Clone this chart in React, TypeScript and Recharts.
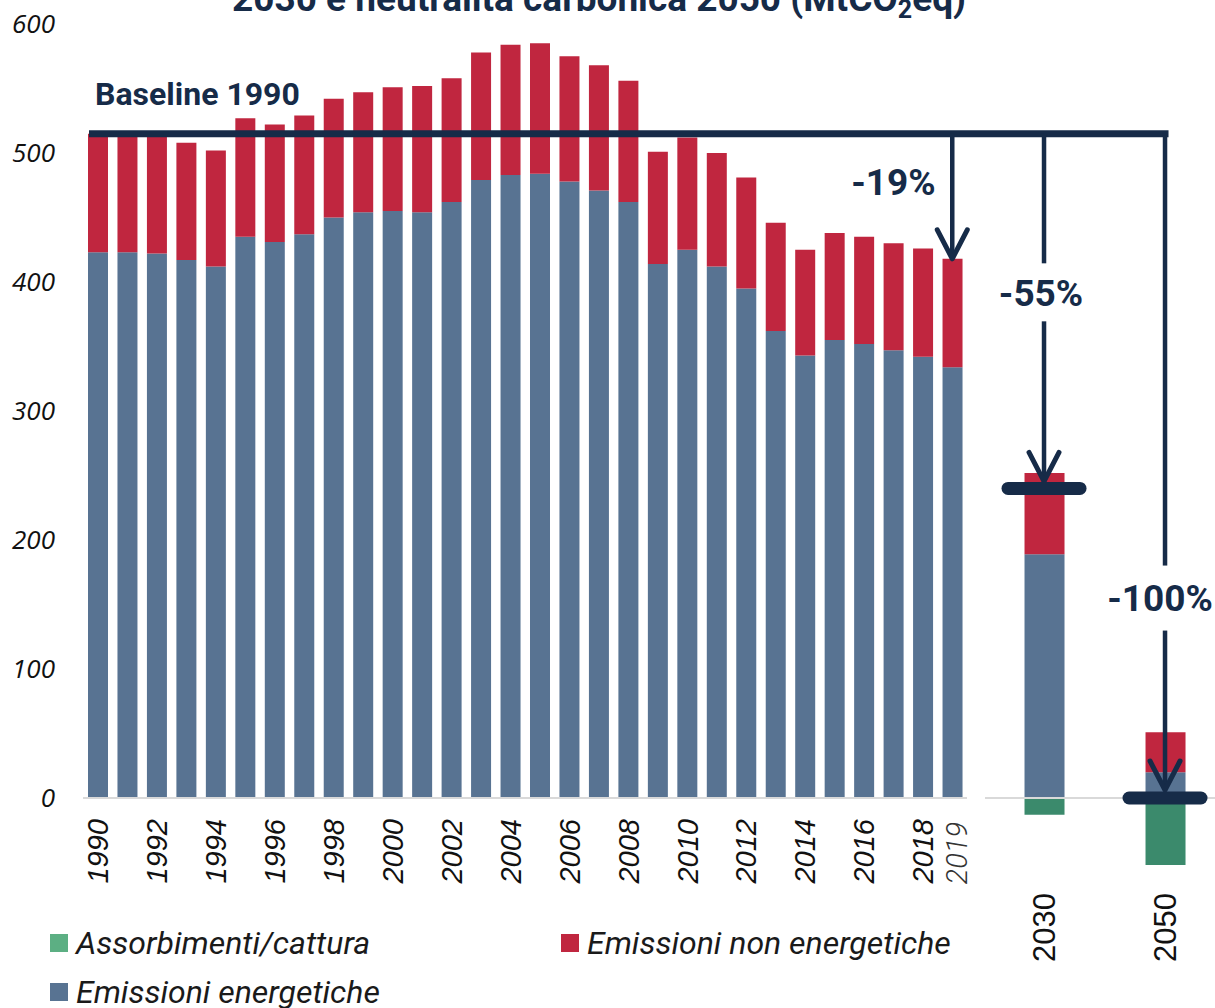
import React from "react";
import { BarChart, Bar, XAxis, YAxis, ReferenceLine, ReferenceDot } from "recharts";

const years = [
	1990, 1991, 1992, 1993, 1994, 1995, 1996, 1997, 1998, 1999,
	2000, 2001, 2002, 2003, 2004, 2005, 2006, 2007, 2008, 2009,
	2010, 2011, 2012, 2013, 2014, 2015, 2016, 2017, 2018, 2019,
];
const energetiche = [
	423, 423, 422, 417, 412, 435, 431, 437, 450, 454,
	455, 454, 462, 479, 483, 484, 478, 471, 462, 414,
	425, 412, 395, 362, 343, 355, 352, 347, 342, 334,
];
const nonEnergetiche = [
	92, 92, 93, 91, 90, 92, 91, 92, 92, 93,
	96, 98, 96, 99, 101, 101, 97, 97, 94, 87,
	87, 88, 86, 84, 82, 83, 83, 83, 84, 84,
];
const yearTicks = [1990, 1992, 1994, 1996, 1998, 2000, 2002, 2004, 2006, 2008, 2010, 2012, 2014, 2016, 2018, 2019];
const yTicks = [0, 100, 200, 300, 400, 500, 600];

const targetYears = [2030, 2050];
const targetEnergetiche = [189, 20];
const targetNonEnergetiche = [63, 31];
const targetAssorbimenti = [-13, -52];
const targetMarkers = [240, 0];

const BASELINE = 515;

const NAVY = "#162b48";
const BLUE = "#587392";
const RED = "#c0263f";
const GREEN = "#3b8a6c";

const legendItems = [
	{ name: "Assorbimenti/cattura", color: "#5caf83" },
	{ name: "Emissioni non energetiche", color: RED },
	{ name: "Emissioni energetiche", color: BLUE },
];

const histData = years.map((year, i) => ({
	year,
	energetiche: energetiche[i],
	nonEnergetiche: nonEnergetiche[i],
}));

const targetData = targetYears.map((year, i) => ({
	year,
	assorbimenti: targetAssorbimenti[i],
	energetiche: targetEnergetiche[i],
	nonEnergetiche: targetNonEnergetiche[i],
}));

const lastTotal = energetiche[energetiche.length - 1] + nonEnergetiche[nonEnergetiche.length - 1];
const targetDomain: [number, number] = [2017.27, 2058.26];

const boldText = { fontFamily: "Roboto", fontWeight: 700, fill: NAVY };

function YearTick({ x, y, payload }: any) {
	const last = payload.value === 2019;
	return (
		<g transform={`translate(${x},${y})`}>
			<text
				x={last ? -18 : -15}
				y={last ? 4 : 0}
				dy="0.36em"
				transform="rotate(-90)"
				textAnchor="end"
				fontFamily={last ? "Roboto" : "Liberation Sans"}
				fontStyle="italic"
				fontWeight={last ? 300 : 400}
				fontSize={29}
				fill={last ? "#333" : "#111"}
			>
				{payload.value}
			</text>
		</g>
	);
}

function TargetTick({ x, y, payload }: any) {
	return (
		<g transform={`translate(${x},${y})`}>
			<text x={-9} dy="0.36em" transform="rotate(-90)" textAnchor="end" fontFamily="Liberation Sans" fontSize={31} fill="#111">
				{payload.value}
			</text>
		</g>
	);
}

// arrow from the baseline down to a target, tip pulled back by `inset` px
const arrowShape = (inset: number) => (p: any) => {
	const tipY = p.y2 - inset;
	return (
		<g>
			<line x1={p.x1} y1={p.y1} x2={p.x2} y2={tipY} stroke={NAVY} strokeWidth={4.5} />
			<polyline
				points={`${p.x2 - 15},${tipY - 29} ${p.x2},${tipY} ${p.x2 + 15},${tipY - 29}`}
				fill="none"
				stroke={NAVY}
				strokeWidth={5}
				strokeLinecap="round"
				strokeLinejoin="round"
			/>
		</g>
	);
};

const tagShape = (text: string, dx: number, gap: number) => (p: any) => (
	<g>
		{gap > 0 && <rect x={p.cx - 12} y={p.cy - gap / 2} width={24} height={gap} fill="#fff" />}
		<text x={p.cx + dx} y={p.cy} dy="0.36em" textAnchor="middle" fontSize={37} {...boldText}>
			{text}
		</text>
	</g>
);

const markerShape = (p: any) => (
	<line x1={p.cx - 36} y1={p.cy} x2={p.cx + 36} y2={p.cy} stroke={NAVY} strokeWidth={13} strokeLinecap="round" />
);

const baselineShape = (p: any) => (
	<g>
		<line x1={p.x1 + 6} y1={p.y1} x2={p.x2} y2={p.y2} stroke={NAVY} strokeWidth={7} />
		<text x={p.x1 + 12} y={p.y1 - 29} fontSize={32} {...boldText}>
			Baseline 1990
		</text>
	</g>
);

const zeroShape = (p: any) => <line x1={p.x1 + 18} y1={p.y1} x2={p.x2} y2={p.y2} stroke="#d9d9d9" strokeWidth={2} />;

export default function App() {
	return (
		<div style={{ position: "absolute", left: 0, top: 0, width: 1215, height: 1008, background: "#fff", overflow: "hidden" }}>
			<svg width={1215} height={30} style={{ position: "absolute", left: 0, top: 0 }}>
				<text x={599} y={11} textAnchor="middle" fontSize={37} {...boldText}>
					2030 e neutralità carbonica 2050 (MtCO
					<tspan dy={7} fontSize={25}>2</tspan>
					<tspan dy={-7}>eq)</tspan>
				</text>
			</svg>

			<div style={{ position: "absolute", left: 0, top: 0 }}>
				<BarChart width={980} height={1008} data={histData} margin={{ top: 24, right: 13, left: 0, bottom: 110 }}>
					<XAxis
						dataKey="year"
						ticks={yearTicks}
						interval={0}
						height={100}
						tickLine={false}
						tickMargin={0}
						axisLine={{ stroke: "#d9d9d9", strokeWidth: 2 }}
						tick={<YearTick />}
					/>
					<YAxis
						domain={[0, 600]}
						ticks={yTicks}
						width={83}
						tickLine={false}
						axisLine={false}
						tickMargin={22}
						tick={{ fontFamily: "Open Sans", fontStyle: "italic", fontSize: 26, fill: "#111" }}
					/>
					<Bar dataKey="energetiche" stackId="a" fill={BLUE} barSize={20} isAnimationActive={false} />
					<Bar dataKey="nonEnergetiche" stackId="a" fill={RED} barSize={20} isAnimationActive={false} />
					<ReferenceLine y={BASELINE} ifOverflow="visible" shape={baselineShape} />
					<ReferenceLine
						segment={[{ x: 2019, y: BASELINE }, { x: 2019, y: lastTotal }]}
						ifOverflow="visible"
						shape={arrowShape(0)}
					/>
					<ReferenceDot x={2017} y={478} ifOverflow="visible" shape={tagShape("-19%", 0, 0)} />
				</BarChart>
			</div>

			<div style={{ position: "absolute", left: 967, top: 0 }}>
				<BarChart
					width={248}
					height={1008}
					data={targetData}
					stackOffset="sign"
					margin={{ top: 24, right: 0, left: 0, bottom: 0 }}
				>
					<XAxis
						dataKey="year"
						type="number"
						domain={targetDomain}
						allowDataOverflow
						ticks={targetYears}
						interval={0}
						height={130}
						tickLine={false}
						tickMargin={0}
						axisLine={false}
						tick={<TargetTick />}
					/>
					<YAxis hide domain={[-62, 600]} allowDataOverflow />
					<Bar dataKey="assorbimenti" stackId="t" fill={GREEN} barSize={40} isAnimationActive={false} />
					<Bar dataKey="energetiche" stackId="t" fill={BLUE} barSize={40} isAnimationActive={false} />
					<Bar dataKey="nonEnergetiche" stackId="t" fill={RED} barSize={40} isAnimationActive={false} />
					<ReferenceLine y={0} ifOverflow="visible" shape={zeroShape} />
					<ReferenceLine
						segment={[{ x: targetDomain[0], y: BASELINE }, { x: 2050, y: BASELINE }]}
						ifOverflow="visible"
						stroke={NAVY}
						strokeWidth={7}
						strokeLinecap="square"
					/>
					<ReferenceLine
						segment={[{ x: 2030, y: BASELINE }, { x: 2030, y: targetMarkers[0] }]}
						ifOverflow="visible"
						shape={arrowShape(7)}
					/>
					<ReferenceLine
						segment={[{ x: 2050, y: BASELINE }, { x: 2050, y: targetMarkers[1] }]}
						ifOverflow="visible"
						shape={arrowShape(8)}
					/>
					<ReferenceDot x={2030} y={392} ifOverflow="visible" shape={tagShape("-55%", -3, 58)} />
					<ReferenceDot x={2050} y={155} ifOverflow="visible" shape={tagShape("-100%", -5, 65)} />
					<ReferenceDot x={2030} y={targetMarkers[0]} ifOverflow="visible" shape={markerShape} />
					<ReferenceDot x={2050} y={targetMarkers[1]} ifOverflow="visible" shape={markerShape} />
				</BarChart>
			</div>

			<div
				style={{
					position: "absolute",
					left: 50,
					top: 918,
					width: 1100,
					display: "flex",
					flexWrap: "wrap",
					fontFamily: "Roboto",
					fontStyle: "italic",
					fontSize: 32,
					color: "#1a1a1a",
				}}
			>
				{legendItems.map((item) => (
					<div key={item.name} style={{ width: 511, height: 49, display: "flex", alignItems: "center" }}>
						<span style={{ width: 18, height: 18, background: item.color, marginRight: 8, display: "inline-block" }} />
						<span>{item.name}</span>
					</div>
				))}
			</div>
		</div>
	);
}
